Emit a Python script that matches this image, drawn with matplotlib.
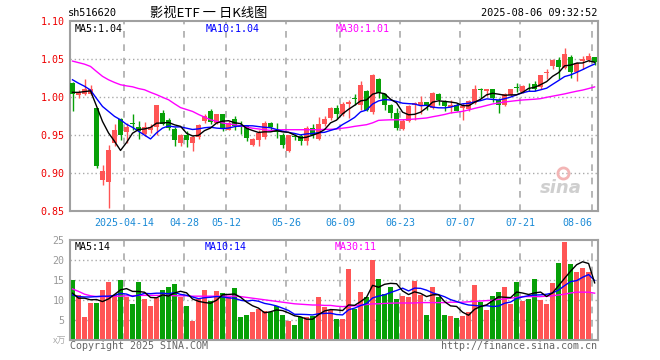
import numpy as np
import pandas as pd
import matplotlib
matplotlib.use("Agg")
from matplotlib import pyplot as plt

# daily candles 2025-03-31 .. 2025-08-06 (88 sessions)
opens = [1.018, 1.003, 1.004, 1.004, 0.985, 0.891, 0.889, 0.940, 0.971, 0.954,
         0.965, 0.961, 0.951, 0.957, 0.961, 0.979, 0.970, 0.958, 0.940, 0.950,
         0.940, 0.947, 0.969, 0.981, 0.966, 0.977, 0.957, 0.971, 0.962, 0.962,
         0.937, 0.944, 0.948, 0.966, 0.956, 0.950, 0.929, 0.949, 0.949, 0.942,
         0.959, 0.945, 0.964, 0.972, 0.986, 0.977, 0.991, 0.998, 0.989, 1.0075,
         0.980, 1.023, 1.004, 0.990, 0.979, 0.958, 0.968, 0.990, 0.990, 0.993,
         0.986, 1.004, 0.994, 0.987, 0.990, 0.986, 0.984, 0.992, 1.010, 1.0075,
         1.011, 0.9965, 0.989, 1.003, 1.013, 1.0066, 1.0155, 1.017, 1.0127, 1.031,
         1.040, 1.049, 1.038, 1.052, 1.033, 1.047, 1.048, 1.052]
highs = [1.019, 1.009, 1.023, 1.015, 0.985, 0.911, 0.937, 0.964, 0.972, 0.966,
         0.977, 0.968, 0.967, 0.965, 0.990, 0.983, 0.972, 0.961, 0.952, 0.955,
         0.950, 0.964, 0.977, 0.984, 0.978, 0.977, 0.968, 0.975, 0.968, 0.9636,
         0.946, 0.957, 0.968, 0.967, 0.966, 0.953, 0.950, 0.951, 0.951, 0.962,
         0.964, 0.974, 0.975, 0.987, 0.989, 0.994, 0.9965, 1.004, 1.021, 1.0097,
         1.030, 1.025, 1.005, 0.991, 0.9855, 0.971, 0.989, 0.993, 1.001, 0.994,
         1.006, 1.005, 0.9965, 0.996, 0.992, 0.992, 0.9965, 1.0153, 1.012, 1.011,
         1.011, 0.9987, 1.005, 1.011, 1.018, 1.0153, 1.0184, 1.0215, 1.029, 1.037,
         1.050, 1.052, 1.0645, 1.055, 1.046, 1.0535, 1.058, 1.052]
lows = [0.982, 0.999, 1.002, 1.002, 0.907, 0.884, 0.854, 0.936, 0.944, 0.940,
        0.957, 0.945, 0.949, 0.953, 0.950, 0.963, 0.957, 0.936, 0.935, 0.934,
        0.929, 0.945, 0.966, 0.965, 0.964, 0.955, 0.956, 0.957, 0.952, 0.942,
        0.936, 0.936, 0.945, 0.955, 0.946, 0.933, 0.928, 0.944, 0.937, 0.937,
        0.946, 0.944, 0.962, 0.970, 0.971, 0.975, 0.972, 0.990, 0.983, 0.981,
        0.978, 0.999, 0.983, 0.972, 0.957, 0.956, 0.967, 0.970, 0.977, 0.983,
        0.984, 0.989, 0.981, 0.979, 0.981, 0.970, 0.981, 0.991, 0.999, 1.001,
        0.9934, 0.979, 0.988, 1.001, 1.0066, 1.0053, 1.0083, 1.008, 1.011, 1.023,
        1.037, 1.024, 1.036, 1.025, 1.021, 1.036, 1.046, 1.0425]
closes = [1.004, 1.006, 1.011, 1.010, 0.909, 0.903, 0.931, 0.956, 0.950, 0.961,
          0.964, 0.955, 0.960, 0.960, 0.989, 0.965, 0.959, 0.944, 0.950, 0.944,
          0.947, 0.963, 0.975, 0.967, 0.977, 0.959, 0.966, 0.962, 0.961, 0.946,
          0.945, 0.953, 0.966, 0.961, 0.954, 0.937, 0.950, 0.948, 0.942, 0.959,
          0.950, 0.964, 0.971, 0.986, 0.977, 0.991, 0.994, 0.997, 1.015, 0.983,
          1.029, 1.005, 0.989, 0.979, 0.959, 0.968, 0.988, 0.992, 0.993, 0.988,
          1.005, 0.9965, 0.988, 0.989, 0.982, 0.988, 0.995, 1.011, 1.009, 1.011,
          0.998, 0.989, 1.004, 1.011, 1.012, 1.014, 1.015, 1.011, 1.0285, 1.032,
          1.049, 1.039, 1.0557, 1.033, 1.045, 1.050, 1.0535, 1.046]
volumes = [15.1, 11.3, 5.8, 9.3, 9.3, 12.6, 14.6, 11.25, 15.1, 10.9,
           9.1, 14.5, 10.3, 8.6, 10.5, 12.6, 13.2, 14.1, 10.7, 8.6,
           4.9, 10.3, 12.6, 9.8, 12.3, 11.75, 10.75, 13.1, 5.8, 6.3,
           7.1, 7.8, 7.3, 7.1, 8.6, 6.25, 4.9, 3.7, 5.8, 5.7,
           6.1, 10.7, 8.3, 7.5, 5.3, 5.3, 17.7, 7.8, 12.1, 10.8,
           20.1, 15.3, 11.5, 13.3, 10.3, 11.1, 10.8, 14.9, 11.4, 6.3,
           13.3, 10.9, 6.3, 6.1, 5.6, 6.1, 7.1, 13.8, 9.6, 7.6,
           11.1, 12.1, 13.3, 9.1, 14.6, 9.8, 10.3, 15.3, 10.1, 9.1,
           14.4, 19.3, 24.4, 19.0, 17.1, 18.1, 17.1, 0.3]

ma5_head = [1.006, 1.006, 1.007, 1.008]
ma10_head = [1.0225, 1.018, 1.014, 1.009, 0.998, 0.9875, 0.981, 0.9745, 0.970]
ma30 = [1.047, 1.045, 1.043, 1.040, 1.0334, 1.027, 1.0225, 1.019, 1.016, 1.0145,
        1.0133, 1.011, 1.0094, 1.006, 1.003, 0.9995, 0.9963, 0.991, 0.986, 0.9835,
        0.981, 0.977, 0.9735, 0.970, 0.968, 0.9658, 0.9647, 0.9636, 0.962, 0.9605,
        0.959, 0.958, 0.957, 0.956, 0.9565, 0.957, 0.957, 0.957, 0.957, 0.957,
        0.957, 0.957, 0.9575, 0.9575, 0.958, 0.959, 0.960, 0.9614, 0.9625, 0.9636,
        0.966, 0.9693, 0.9697, 0.970, 0.970, 0.970, 0.9705, 0.971, 0.9717, 0.9724,
        0.974, 0.9754, 0.977, 0.979, 0.980, 0.9811, 0.9829, 0.985, 0.9868, 0.9888,
        0.9908, 0.992, 0.9934, 0.9943, 0.9952, 0.996, 0.9965, 0.997, 0.9978, 0.9995,
        1.001, 1.0025, 1.004, 1.0058, 1.0075, 1.009, 1.011, 1.0132]
vol_ma5_head = [11.75, 10.5, 10.5, 10.1]
vol_ma10_head = [11.3, 10.9, 10.8, 10.8, 10.9, 11.0, 11.0, 11.2, 11.7]
vol_ma30 = [12.8, 12.2, 11.5, 11.1, 10.9, 10.9, 10.9, 11.0, 11.0, 11.1,
            11.1, 11.2, 11.2, 11.2, 11.2, 11.2, 11.2, 11.1, 11.1, 11.1,
            11.0, 11.0, 11.0, 11.0, 11.0, 11.0, 11.0, 11.0, 10.9, 10.7,
            10.5, 10.3, 10.1, 9.9, 9.7, 9.5, 9.3, 9.1, 9.0, 8.9,
            8.8, 8.8, 8.7, 8.7, 8.5, 8.4, 8.5, 8.6, 8.8, 8.9,
            9.1, 9.1, 9.2, 9.25, 9.3, 9.3, 9.3, 9.3, 9.4, 9.4,
            9.4, 9.4, 9.4, 9.5, 9.5, 9.5, 9.6, 9.7, 9.8, 9.9,
            10.0, 10.2, 10.3, 10.5, 10.7, 10.9, 10.9, 10.9, 10.9, 11.0,
            11.1, 11.3, 11.5, 11.8, 12.0, 12.0, 12.0, 11.75]

date_idx = [9, 19, 26, 36, 45, 55, 65, 75, 87]
date_labels = ["2025-04-14", "04-28", "05-12", "05-26", "06-09",
               "06-23", "07-07", "07-21", "08-06"]
price_ticks = [0.85, 0.90, 0.95, 1.00, 1.05, 1.10]
vol_ticks = [5, 10, 15, 20, 25]

RED = "#ff5555"
GREEN = "#07a007"
GRID = "#aaaaaa"
MONO = "DejaVu Sans Mono"

x = np.arange(len(closes))
o = np.array(opens)
c = np.array(closes)
up = c >= o
colors = np.where(up, RED, GREEN)

ma5 = pd.Series(c).rolling(5).mean().to_numpy()
ma5[:4] = ma5_head
ma10 = pd.Series(c).rolling(10).mean().to_numpy()
ma10[:9] = ma10_head
v = pd.Series(volumes)
vma5 = v.rolling(5).mean().to_numpy()
vma5[:4] = vol_ma5_head
vma10 = v.rolling(10).mean().to_numpy()
vma10[:9] = vol_ma10_head

fig = plt.figure(figsize=(6.6, 3.6), dpi=100)
ax = fig.add_axes([0.1065, 0.4131, 0.799, 0.5294])
axv = fig.add_axes([0.1065, 0.0547, 0.799, 0.2786])

grid_x = [i - 0.37 for i in date_idx]
for a in (ax, axv):
    a.set_xlim(-0.37, 87.5)
    for s in a.spines.values():
        s.set_color("#a0a0a0")
        s.set_linewidth(1.5)
    for gx in grid_x:
        a.axvline(gx, color=GRID, lw=1.2, dashes=(4, 4), zorder=0)
    a.tick_params(length=0)

# price panel
ax.set_ylim(0.85, 1.10)
for gy in [0.90, 0.95, 1.00, 1.05]:
    ax.axhline(gy, color=GRID, lw=1, dashes=(1, 2), zorder=0)
ax.vlines(x, lows, highs, colors=colors, lw=1, zorder=2)
body = np.maximum(np.abs(c - o), 0.0012)
ax.bar(x, body, bottom=np.minimum(o, c), width=0.75, color=colors, zorder=3)
ax.plot(x, ma30, color="#ff00ff", lw=1, zorder=4)
ax.plot(x, ma10, color="#0000ff", lw=1, zorder=4)
ax.plot(x, ma5, color="black", lw=1, zorder=4)

ax.set_yticks(price_ticks)
ax.set_yticklabels([f"{t:.2f}" for t in price_ticks], family=MONO, fontsize=7.2, color="#ee0000")
ax.tick_params(axis="y", pad=4)
ax.set_xticks(grid_x)
ax.set_xticklabels(date_labels, family=MONO, fontsize=7.2, color="#1a8ad6")
ax.tick_params(axis="x", pad=5)
ax.get_xticklabels()[-1].set_ha("right")

ax.text(0.3, 1.096, "MA5:1.04", family=MONO, fontsize=7.2, color="black", va="top")
ax.text(22.25, 1.096, "MA10:1.04", family=MONO, fontsize=7.2, color="#0000ff", va="top")
ax.text(43.9, 1.096, "MA30:1.01", family=MONO, fontsize=7.2, color="#ff00ff", va="top")
ax.text(0.93, 0.075, "sina", transform=ax.transAxes, ha="center", va="bottom",
        fontsize=13, fontstyle="italic", fontweight="bold", color="#cfcfcf", zorder=1)
ax.plot([0.935], [0.2], "o", transform=ax.transAxes, ms=8, mfc="none",
        mec="#f3b5b5", mew=2, zorder=1)

# volume panel
axv.set_ylim(0, 25)
for gy in [5, 10, 15, 20]:
    axv.axhline(gy, color=GRID, lw=1, dashes=(1, 2), zorder=0)
axv.bar(x, volumes, width=0.8, color=colors, zorder=2)
axv.plot(x, vol_ma30, color="#ff00ff", lw=1, zorder=3)
axv.plot(x, vma10, color="#0000ff", lw=1, zorder=3)
axv.plot(x, vma5, color="black", lw=1, zorder=3)
axv.set_yticks(vol_ticks)
axv.set_yticklabels([str(t) for t in vol_ticks], family=MONO, fontsize=7.2, color="#999999")
axv.tick_params(axis="y", pad=4)
axv.set_xticks([])
axv.text(0.4, 24.4, "MA5:14", family=MONO, fontsize=7.2, color="black", va="top")
axv.text(22.0, 24.4, "MA10:14", family=MONO, fontsize=7.2, color="#0000ff", va="top")
axv.text(43.7, 24.4, "MA30:11", family=MONO, fontsize=7.2, color="#ff00ff", va="top")

# header and footer
fig.text(68 / 660, 1 - 13 / 360, "sh516620", family=MONO, fontsize=7.4, va="center")
fig.text(150 / 660, 1 - 13 / 360, "影视ETF 一 日K线图",
         family=["Noto Sans CJK SC", "DejaVu Sans"], fontsize=9.5, va="center")
fig.text(597 / 660, 1 - 13 / 360, "2025-08-06 09:32:52", family=MONO, fontsize=7.4,
         va="center", ha="right")
fig.text(66 / 660, 1 - 341 / 360, "x万", family=["Noto Sans CJK SC", "DejaVu Sans"],
         fontsize=6.5, color="#aaaaaa", va="center", ha="right")
fig.text(70 / 660, 1 - 346 / 360, "Copyright 2025 SINA.COM", family=MONO, fontsize=7.2,
         color="#666666", va="center")
fig.text(597 / 660, 1 - 346 / 360, "http://finance.sina.com.cn", family=MONO,
         fontsize=7.2, color="#666666", va="center", ha="right")

fig.savefig("out.png", dpi=100)
